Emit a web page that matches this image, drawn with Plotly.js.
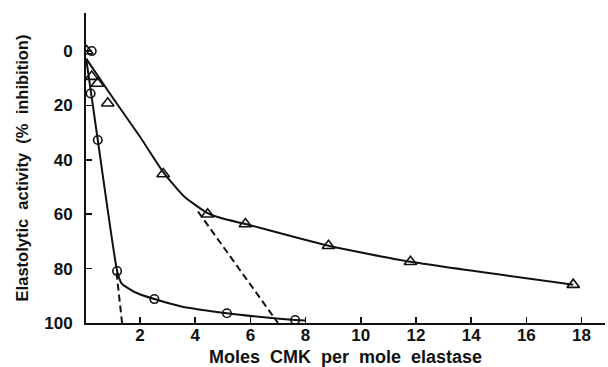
<!DOCTYPE html>
<html>
<head>
<meta charset="utf-8">
<script src="https://cdn.plot.ly/plotly-3.0.1.min.js"></script>
<style>html,body{margin:0;padding:0;background:#fff;}#chart{width:608px;height:367px;}</style>
</head>
<body>
<div id="chart"></div>
<script>
// Observed data points
const triX = [0.07, 0.25, 0.46, 0.83, 2.84, 4.45, 5.82, 8.83, 11.8, 17.7];
const triY = [0, 9.4, 11.9, 19.2, 45.2, 60.0, 63.6, 71.6, 77.5, 85.9];
const cirX = [0.25, 0.21, 0.47, 1.17, 2.52, 5.15, 7.62];
const cirY = [0, 15.6, 32.7, 80.9, 91.2, 96.4, 98.9];

// Fitted curves
const triCurveX = [0.05, 1.0, 2.0, 2.84, 3.6, 4.45, 5.0, 5.82, 8.83, 11.8, 17.7];
const triCurveY = [2.8, 17.0, 31.5, 44.5, 53.5, 59.6, 61.6, 63.6, 71.6, 77.5, 85.9];
const cirCurveX = [0.05, 0.47, 1.17, 1.33, 1.8, 2.52, 3.5, 5.15, 6.5, 7.62, 8.0];
const cirCurveY = [2.8, 32.7, 80.8, 85.4, 88.6, 91.2, 93.9, 96.4, 97.9, 98.9, 99.1];

// Dashed extrapolations
const cirDashX = [1.15, 1.35];
const cirDashY = [81.5, 100];
const triDashX = [4.1, 7.0];
const triDashY = [59, 100];

const xTicks = [2, 4, 6, 8, 10, 12, 14, 16, 18];
const yTicks = [0, 20, 40, 60, 80, 100];

const FONT = 'Liberation Sans, Arial, Helvetica, sans-serif';

const traces = [
  {x: triCurveX, y: triCurveY, mode: 'lines', line: {color: '#111', width: 2, shape: 'spline', smoothing: 0.5}, hoverinfo: 'skip'},
  {x: cirCurveX, y: cirCurveY, mode: 'lines', line: {color: '#111', width: 2, shape: 'spline', smoothing: 0.5}, hoverinfo: 'skip'},
  {x: cirDashX, y: cirDashY, mode: 'lines', line: {color: '#111', width: 2, dash: '7px,4px'}},
  {x: triDashX, y: triDashY, mode: 'lines', line: {color: '#111', width: 2, dash: '7px,4px'}},
  {x: triX, y: triY, mode: 'markers', marker: {symbol: 'triangle-up-open', size: 11, color: '#111', line: {width: 1.6, color: '#111'}}},
  {x: cirX, y: cirY, mode: 'markers', marker: {symbol: 'circle-open', size: 8.5, color: '#111', line: {width: 1.6, color: '#111'}}}
];

const layout = {
  width: 608, height: 367,
  margin: {l: 86, r: 3, t: 13, b: 44},
  paper_bgcolor: '#fff', plot_bgcolor: '#fff',
  showlegend: false,
  font: {family: FONT, color: '#111'},
  xaxis: {
    range: [0.043, 18.85], showgrid: false, zeroline: false,
    showline: true, linecolor: '#111', linewidth: 2,
    ticks: 'inside', ticklen: 6, tickwidth: 1.5, tickcolor: '#111',
    tickvals: xTicks, ticktext: xTicks.map(String),
    tickfont: {family: FONT, size: 17, color: '#111', weight: 'bold'},
    ticklabelstandoff: -4,
    title: {text: '<b>Moles  CMK  per  mole  elastase</b>', font: {family: FONT, size: 18, color: '#111'}, standoff: 8}
  },
  yaxis: {
    range: [100, -14], showgrid: false, zeroline: false,
    showline: true, linecolor: '#111', linewidth: 2,
    ticks: 'inside', ticklen: 6, tickwidth: 1.5, tickcolor: '#111',
    tickvals: yTicks, ticktext: yTicks.map(String),
    tickfont: {family: FONT, size: 17, color: '#111', weight: 'bold'},
    ticklabelstandoff: 8,
    title: {text: '<b>Elastolytic  activity  (%  inhibition)</b>', font: {family: FONT, size: 16.5, color: '#111'}, standoff: 11}
  }
};

Plotly.newPlot('chart', traces, layout, {displayModeBar: false, staticPlot: true});
</script>
</body>
</html>
